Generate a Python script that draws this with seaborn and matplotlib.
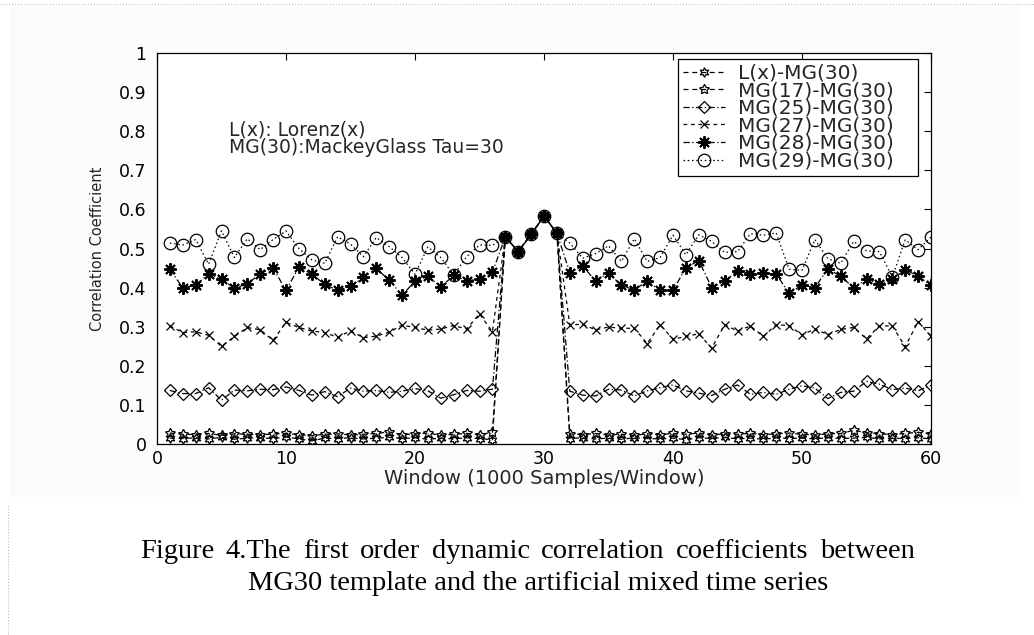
import numpy as np
import matplotlib
matplotlib.use("Agg")
import matplotlib.pyplot as plt
from matplotlib.lines import Line2D
from matplotlib.patches import Rectangle
import seaborn as sns

# window index (1000 samples per window)
windows = np.arange(1, 61)

# windows 27..31: every series coincides
peak = [0.530, 0.492, 0.536, 0.583, 0.539]

# values for windows 1..26 and 32..60
lx_left = [0.015, 0.014, 0.016, 0.013, 0.017, 0.012, 0.015, 0.016, 0.014, 0.018, 0.013, 0.008, 0.015,
           0.014, 0.016, 0.013, 0.015, 0.017, 0.014, 0.016, 0.012, 0.015, 0.013, 0.016, 0.014, 0.011]
lx_right = [0.014, 0.016, 0.013, 0.015, 0.012, 0.016, 0.014, 0.013, 0.015, 0.011, 0.016, 0.014, 0.017,
            0.013, 0.015, 0.012, 0.016, 0.014, 0.015, 0.013, 0.016, 0.014, 0.015, 0.017, 0.013, 0.015,
            0.014, 0.016, 0.013]

mg17_left = [0.028, 0.025, 0.024, 0.027, 0.022, 0.026, 0.025, 0.023, 0.026, 0.027, 0.024, 0.021, 0.025,
             0.026, 0.023, 0.025, 0.027, 0.031, 0.024, 0.026, 0.028, 0.022, 0.025, 0.027, 0.024, 0.030]
mg17_right = [0.026, 0.024, 0.027, 0.023, 0.025, 0.022, 0.026, 0.024, 0.027, 0.025, 0.028, 0.023, 0.026,
              0.025, 0.027, 0.024, 0.026, 0.028, 0.025, 0.023, 0.026, 0.027, 0.035, 0.029, 0.026, 0.024,
              0.027, 0.030, 0.026]

mg25_left = [0.137, 0.129, 0.129, 0.144, 0.112, 0.138, 0.136, 0.140, 0.139, 0.146, 0.137, 0.125, 0.134,
             0.121, 0.143, 0.135, 0.137, 0.132, 0.135, 0.142, 0.136, 0.117, 0.126, 0.137, 0.135, 0.140]
mg25_right = [0.135, 0.125, 0.123, 0.140, 0.138, 0.123, 0.136, 0.144, 0.151, 0.136, 0.130, 0.124, 0.140,
              0.151, 0.127, 0.132, 0.127, 0.140, 0.149, 0.143, 0.116, 0.132, 0.135, 0.160, 0.153, 0.139,
              0.143, 0.136, 0.150]

mg27_left = [0.302, 0.285, 0.287, 0.278, 0.250, 0.275, 0.298, 0.292, 0.265, 0.311, 0.298, 0.289, 0.285,
             0.273, 0.289, 0.272, 0.276, 0.286, 0.304, 0.298, 0.291, 0.294, 0.303, 0.294, 0.333, 0.287]
mg27_right = [0.305, 0.306, 0.292, 0.299, 0.296, 0.296, 0.257, 0.305, 0.268, 0.275, 0.282, 0.245, 0.305,
              0.289, 0.302, 0.275, 0.305, 0.303, 0.279, 0.294, 0.280, 0.293, 0.298, 0.269, 0.302, 0.302,
              0.249, 0.313, 0.276]

mg28_left = [0.447, 0.399, 0.407, 0.435, 0.421, 0.399, 0.409, 0.436, 0.450, 0.393, 0.452, 0.435, 0.408,
             0.393, 0.403, 0.426, 0.449, 0.419, 0.381, 0.416, 0.429, 0.402, 0.431, 0.418, 0.421, 0.439]
mg28_right = [0.438, 0.455, 0.417, 0.437, 0.406, 0.394, 0.417, 0.393, 0.393, 0.451, 0.469, 0.400, 0.417,
              0.442, 0.436, 0.437, 0.434, 0.386, 0.406, 0.400, 0.448, 0.429, 0.400, 0.421, 0.409, 0.421,
              0.446, 0.429, 0.406]

mg29_left = [0.514, 0.509, 0.523, 0.460, 0.545, 0.477, 0.525, 0.497, 0.523, 0.545, 0.500, 0.471, 0.462,
             0.530, 0.511, 0.479, 0.528, 0.505, 0.477, 0.434, 0.504, 0.477, 0.432, 0.479, 0.509, 0.508]
mg29_right = [0.514, 0.475, 0.487, 0.507, 0.467, 0.525, 0.467, 0.477, 0.534, 0.484, 0.535, 0.518, 0.490,
              0.492, 0.538, 0.534, 0.540, 0.447, 0.444, 0.523, 0.474, 0.462, 0.518, 0.494, 0.492, 0.427,
              0.522, 0.497, 0.529]

series_names = ["L(x)-MG(30)", "MG(17)-MG(30)", "MG(25)-MG(30)",
                "MG(27)-MG(30)", "MG(28)-MG(30)", "MG(29)-MG(30)"]
x_ticks = [0, 10, 20, 30, 40, 50, 60]
y_ticks = [0, 0.1, 0.2, 0.3, 0.4, 0.5, 0.6, 0.7, 0.8, 0.9, 1]
y_tick_labels = ["0", "0.1", "0.2", "0.3", "0.4", "0.5", "0.6", "0.7", "0.8", "0.9", "1"]
caption_line1 = "Figure 4.The first order dynamic correlation coefficients between"
caption_line2 = "MG30 template and the artificial mixed time series"


def full_series(left, right):
    return np.concatenate([left, peak, right])


series_values = [full_series(lx_left, lx_right), full_series(mg17_left, mg17_right),
                 full_series(mg25_left, mg25_right), full_series(mg27_left, mg27_right),
                 full_series(mg28_left, mg28_right), full_series(mg29_left, mg29_right)]

# marker / line style per series (MATLAB-like)
styles = [
    dict(marker=(6, 1, 0), ms=7, ls=(0, (4, 3))),
    dict(marker=(5, 1, 0), ms=7.5, ls=(0, (4, 3))),
    dict(marker="D", ms=6.5, ls=(0, (5, 2, 1, 2))),
    dict(marker="x", ms=6, ls=(0, (3, 3))),
    dict(marker=(8, 2, 0), ms=9, ls=(0, (5, 2, 1, 2)), mew=1.4),
    dict(marker="o", ms=9, ls=(0, (1.2, 2.2))),
]

sns.set_theme(style="white")
plt.rcParams['font.family'] = ['DejaVu Sans']

W, H = 1034, 635
fig = plt.figure(figsize=(W / 100, H / 100), dpi=100)
fig.patch.set_facecolor("white")
# light grey background of the pasted chart image
fig.add_artist(Rectangle((10 / W, 1 - 497 / H), 1010 / W, 491 / H, transform=fig.transFigure,
                         facecolor="#fbfbfb", edgecolor="none", zorder=-10))

ax = fig.add_axes([157 / W, 1 - 444 / H, 774 / W, 391 / H])
ax.set_facecolor("white")

for name, vals, st in zip(series_names, series_values, styles):
    st = dict(st)
    sns.lineplot(x=windows, y=vals, ax=ax, estimator=None, color="black",
                 marker=st.pop("marker"), markersize=st.pop("ms"), linestyle=st.pop("ls"),
                 markerfacecolor="none", markeredgecolor="black",
                 markeredgewidth=st.pop("mew", 0.9), linewidth=0.9, label=name)

ax.set_xlim(0, 60)
ax.set_ylim(0, 1)
ax.set_xticks(x_ticks)
ax.set_xticklabels([str(t) for t in x_ticks])
ax.set_yticks(y_ticks)
ax.set_yticklabels(y_tick_labels)
ax.tick_params(direction="in", top=True, right=True, length=5, width=0.8,
               labelsize=12.5, colors="black")
ax.tick_params(axis="x", pad=4)
ax.tick_params(axis="y", pad=7.5)
for sp in ax.spines.values():
    sp.set_visible(True)
    sp.set_color("black")
    sp.set_linewidth(0.9)

ax.set_xlabel("Window (1000 Samples/Window)", fontsize=14, labelpad=1)
ax.set_ylabel("Correlation Coefficient", fontsize=10.5, labelpad=10)

ax.text(5.55, 0.804, "L(x): Lorenz(x)", fontsize=13.5, va="center", ha="left")
ax.text(5.55, 0.758, "MG(30):MackeyGlass Tau=30", fontsize=13.5, va="center", ha="left")

# trailing blanks give the wider right margin of the original legend box
leg = ax.legend(handles=ax.lines[:6], labels=[n + "   " for n in series_names], loc="upper right",
                bbox_to_anchor=(0.9832, 0.9857), borderaxespad=0, fontsize=14.5,
                frameon=True, fancybox=False, shadow=False, framealpha=1,
                edgecolor="black", handlelength=2.1, handletextpad=0.65,
                labelspacing=-0.07, borderpad=0.25)
leg.get_frame().set_linewidth(0.9)

# caption below the chart, first line justified
renderer = fig.canvas.get_renderer()
cap_font = dict(fontsize=20.5, family=["Liberation Serif", "DejaVu Serif"], va="center", color="black")
words = caption_line1.split()
word_texts = [fig.text(0, 1 - 552 / H, w, **cap_font) for w in words]
widths = [t.get_window_extent(renderer).width for t in word_texts]
left_px, right_px = 140, 915
gap = (right_px - left_px - sum(widths)) / (len(words) - 1)
x_px = left_px
for t, wd in zip(word_texts, widths):
    t.set_x(x_px / W)
    x_px += wd + gap
fig.text(538 / W, 1 - 584 / H, caption_line2, ha="center", **cap_font)

# dotted page borders from the scanned document
fig.add_artist(Line2D([0, 1], [1 - 4 / H, 1 - 4 / H], transform=fig.transFigure,
                      color="#b0b0b0", lw=0.7, ls=(0, (1, 2))))
fig.add_artist(Line2D([8 / W, 8 / W], [0, 1 - 505 / H], transform=fig.transFigure,
                      color="#b0b0b0", lw=0.7, ls=(0, (1, 2))))

fig.savefig("out.png", dpi=100)
plt.close(fig)
